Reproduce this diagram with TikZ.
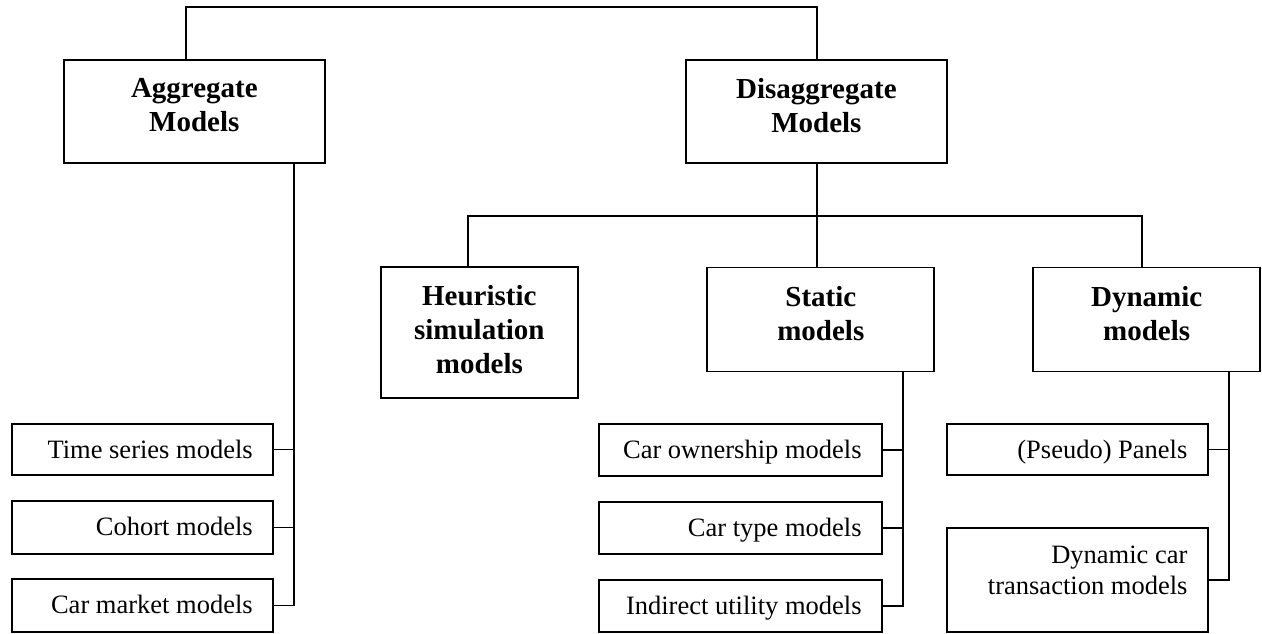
\documentclass[tikz,border=0pt]{standalone}
\usepackage{fontspec}
\setmainfont{Liberation Serif}
\begin{document}
\begin{tikzpicture}[x=0.5pt,y=-0.5pt,
  boxnode/.style={draw,line width=0.9pt,rectangle,inner sep=0pt},
  btxt/.style={anchor=north,inner sep=0pt,align=center,font=\fontsize{14.5pt}{17.1pt}\selectfont\bfseries},
  rtxt/.style={anchor=north east,inner sep=0pt,align=right,font=\fontsize{13.25pt}{15.35pt}\selectfont},
  conn/.style={line width=0.9pt}]
\fill[white] (0,0) rectangle (1262,633);
\useasboundingbox (0,0) rectangle (1262,633);
% main boxes
\node[boxnode,minimum width=130.65pt,minimum height=51.8pt] (agg) at (194.35,111.5) {};
\node[boxnode,minimum width=130.65pt,minimum height=51.8pt] (dis) at (816.35,111.5) {};
\node[boxnode,minimum width=98.35pt,minimum height=65.35pt] (heu) at (479.35,332.35) {};
\node[boxnode,minimum width=113.5pt,minimum height=52pt] (sta) at (820.8,319.5) {};
\node[boxnode,minimum width=113.35pt,minimum height=52pt] (dyn) at (1146.65,319.5) {};
% small boxes
\node[boxnode,minimum width=130.65pt,minimum height=25.8pt] (ts) at (142.35,449.5) {};
\node[boxnode,minimum width=130.65pt,minimum height=26.2pt] (co) at (142.35,527.5) {};
\node[boxnode,minimum width=130.65pt,minimum height=26.2pt] (cm) at (142.35,605.5) {};
\node[boxnode,minimum width=141.5pt,minimum height=26pt] (own) at (740.35,449.7) {};
\node[boxnode,minimum width=141.5pt,minimum height=26pt] (typ) at (740.35,527.7) {};
\node[boxnode,minimum width=141.5pt,minimum height=26pt] (ind) at (740.35,605.7) {};
\node[boxnode,minimum width=130.5pt,minimum height=25.8pt] (ps) at (1077.2,449.5) {};
\node[boxnode,minimum width=130.5pt,minimum height=52.15pt] (dc) at (1077.2,579.85) {};
% texts
\node[btxt] (aggT) at ([yshift=-9.6pt]agg.north) {Aggregate\\Models};
\node[btxt] (disT) at ([yshift=-9.6pt]dis.north) {Disaggregate\\Models};
\node[btxt] (heuT) at ([yshift=-9.2pt]heu.north) {Heuristic\\simulation\\models};
\node[btxt] (staT) at ([yshift=-9.8pt]sta.north) {Static\\models};
\node[btxt] (dynT) at ([yshift=-9.8pt]dyn.north) {Dynamic\\models};
\node[rtxt] (tsT) at ([xshift=-10.4pt,yshift=-8.3pt]ts.north east) {Time series models};
\node[rtxt] (coT) at ([xshift=-10.4pt,yshift=-8.3pt]co.north east) {Cohort models};
\node[rtxt] (cmT) at ([xshift=-10.4pt,yshift=-8.3pt]cm.north east) {Car market models};
\node[rtxt] (ownT) at ([xshift=-10.4pt,yshift=-8.5pt]own.north east) {Car ownership models};
\node[rtxt] (typT) at ([xshift=-10.4pt,yshift=-8.5pt]typ.north east) {Car type models};
\node[rtxt] (indT) at ([xshift=-10.4pt,yshift=-8.5pt]ind.north east) {Indirect utility models};
\node[rtxt] (psT) at ([xshift=-10.4pt,yshift=-8.5pt]ps.north east) {(Pseudo) Panels};
\node[rtxt] (dcT) at ([xshift=-10.4pt,yshift=-9.3pt]dc.north east) {Dynamic car\\transaction models};
% connector helper coordinates
\coordinate (topbar) at (0,7.3);
\coordinate (aggup) at (185.7,0);
\coordinate (disx) at (816.7,0);
\coordinate (aggbus) at (294,0);
\coordinate (midbar) at (0,215.7);
\coordinate (heuup) at (468.3,0);
\coordinate (dynup) at (1142.3,0);
\coordinate (stabus) at (903.3,0);
\coordinate (dynbus) at (1229.3,0);
% top connector
\draw[conn] (agg.north -| aggup) |- (topbar -| disx) -- (dis.north -| disx);
% aggregate branch
\draw[conn] (agg.south -| aggbus) |- (cm.east);
\draw[conn] (ts.east) -- (ts.east -| aggbus);
\draw[conn] (co.east) -- (co.east -| aggbus);
% disaggregate branch
\draw[conn] (dis.south -| disx) -- (sta.north -| disx);
\draw[conn] (heu.north -| heuup) |- (midbar -| dynup) -- (dyn.north -| dynup);
% static branch
\draw[conn] (sta.south -| stabus) |- (ind.east);
\draw[conn] (own.east) -- (own.east -| stabus);
\draw[conn] (typ.east) -- (typ.east -| stabus);
% dynamic branch
\draw[conn] (dyn.south -| dynbus) |- (dc.east);
\draw[conn] (ps.east) -- (ps.east -| dynbus);
\end{tikzpicture}
\end{document}
